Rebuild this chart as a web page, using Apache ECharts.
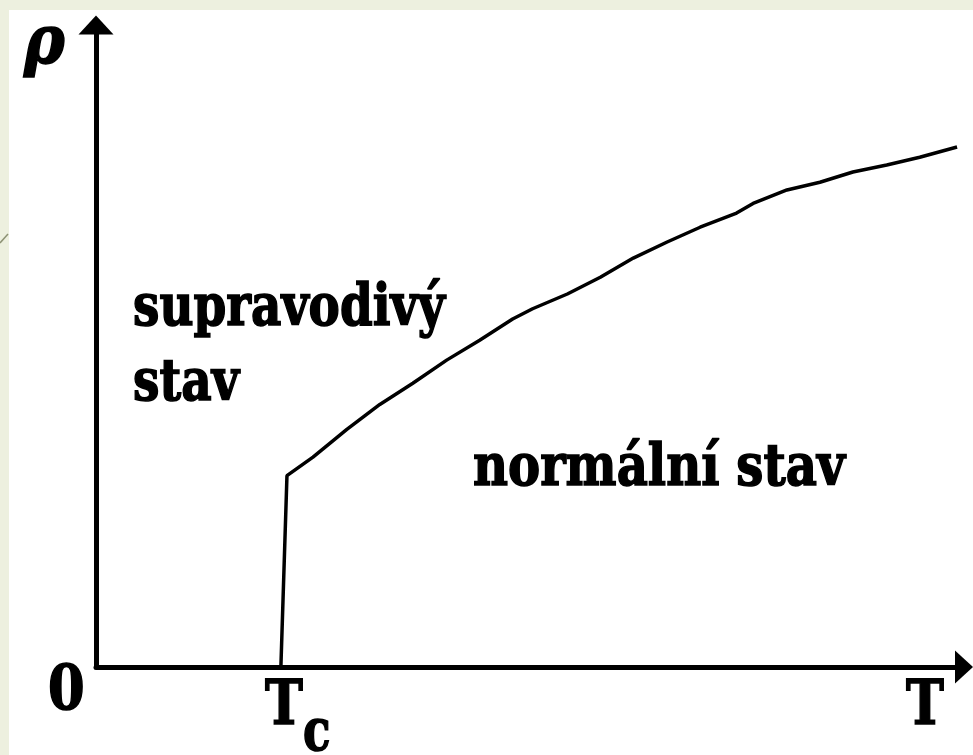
<!DOCTYPE html>
<html>
<head>
<meta charset="utf-8">
<script src="https://cdn.jsdelivr.net/npm/echarts@6/dist/echarts.min.js"></script>
<style>
  html, body { margin: 0; padding: 0; background: #edf0df; }
  #chart { width: 973px; height: 755px; }
</style>
</head>
<body>
<div id="chart"></div>
<script>
// resistivity vs temperature (arbitrary units, axes run 0..10)
var temps = [2.13, 2.20, 2.50, 2.89, 3.27, 3.65, 4.04, 4.42, 4.80, 5.03, 5.43, 5.81, 6.19, 6.58, 6.96, 7.38, 7.57, 7.96, 8.34, 8.72, 9.11, 9.49, 9.92];
var rho   = [0,    2.98, 3.27, 3.70, 4.09, 4.42, 4.78, 5.09, 5.42, 5.58, 5.81, 6.07, 6.37, 6.62, 6.85, 7.07, 7.22, 7.43, 7.55, 7.71, 7.82, 7.94, 8.10];
var axisNames = ['T', 'ρ'];
var originLabel = ['0'];
var tcLabel = ['T', 'c'];
var regionLabels = ['supravodivý', 'stav', 'normální stav'];

var myChart = echarts.init(document.getElementById('chart'));

var labelFont = '"DejaVu Serif", serif';
var ctx = document.createElement('canvas').getContext('2d');
function fitScale(text, size, width) {
  ctx.font = 'bold ' + size + 'px ' + labelFont;
  return width / ctx.measureText(text).width;
}

var points = temps.map(function (t, i) { return [t, rho[i]]; });

var axisLine = function (size) {
  return {
    show: true,
    onZero: true,
    symbol: ['none', 'triangle'],
    symbolSize: size,
    lineStyle: { color: '#000', width: 5 }
  };
};

var option = {
  backgroundColor: '#edf0df',
  animation: false,
  grid: { left: 96, right: 9, top: 25, bottom: 88 },
  xAxis: {
    type: 'value', min: 0, max: 10,
    axisLine: axisLine([33, 18]),
    axisTick: { show: false },
    axisLabel: { show: false },
    splitLine: { show: false }
  },
  yAxis: {
    type: 'value', min: 0, max: 10,
    axisLine: axisLine([35, 19]),
    axisTick: { show: false },
    axisLabel: { show: false },
    splitLine: { show: false }
  },
  series: [{
    type: 'line',
    data: points,
    symbol: 'none',
    z: 3,
    lineStyle: { color: '#000', width: 3.5 }
  }]
};

myChart.setOption(option);

// labels placed off the axes through the grid's own scale
var origin = myChart.convertToPixel({ gridIndex: 0 }, [0, 0]);
var tcPx = myChart.convertToPixel({ gridIndex: 0 }, [temps[0], 0]);
var xEnd = myChart.convertToPixel({ gridIndex: 0 }, [10, 0]);
var yEnd = myChart.convertToPixel({ gridIndex: 0 }, [0, 10]);

function txt(text, x, y, size, extra, italic) {
  var el = {
    type: 'text',
    x: x, y: y,
    z: 10,
    silent: true,
    style: {
      text: text,
      font: (italic ? 'italic ' : '') + 'bold ' + size + 'px ' + labelFont,
      fill: '#000',
      stroke: '#000',
      lineWidth: 1.6,
      textAlign: 'left',
      textVerticalAlign: 'middle'
    }
  };
  if (extra) {
    for (var k in extra) el[k] = extra[k];
  }
  return el;
}

var graphics = [
  { type: 'rect', z: -10, silent: true, shape: { x: 9, y: 10, width: 964, height: 745 }, style: { fill: '#ffffff' } },
  { type: 'line', z: -5, silent: true, shape: { x1: 0, y1: 243, x2: 8, y2: 234 }, style: { stroke: '#8d9274', lineWidth: 1.5 } },
  txt(regionLabels[0], 133, 310, 58, { scaleX: fitScale(regionLabels[0], 58, 312) }),
  txt(regionLabels[1], 133, 385, 58, { scaleX: fitScale(regionLabels[1], 58, 106) }),
  txt(regionLabels[2], 473, 470, 58, { scaleX: fitScale(regionLabels[2], 58, 372) }),
  txt(originLabel[0], origin[0] - 48, origin[1] + 26, 62, { scaleX: 0.85 }),
  txt(tcLabel[0], tcPx[0] - 16, origin[1] + 41, 62, { scaleX: 0.82 }),
  txt(tcLabel[1], tcPx[0] + 22, origin[1] + 68, 58, { scaleX: 0.78 }),
  txt(axisNames[0], xEnd[0] - 58, origin[1] + 41, 62, { scaleX: 0.82 }),
  txt(axisNames[1], 24, yEnd[1] + 20, 68, { scaleX: 0.9 }, true)
];

myChart.setOption({ graphic: graphics });
</script>
</body>
</html>
